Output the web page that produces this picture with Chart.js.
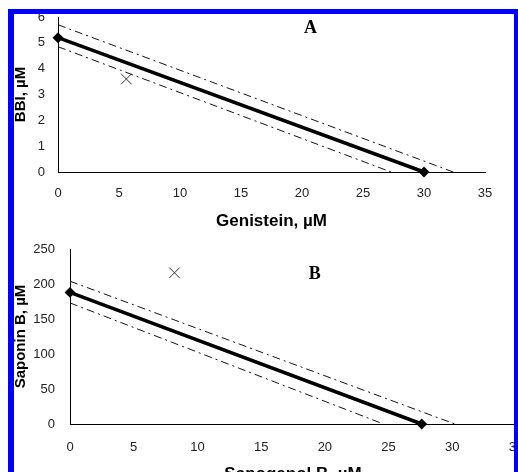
<!DOCTYPE html>
<html>
<head>
<meta charset="utf-8">
<script src="https://cdn.jsdelivr.net/npm/chart.js@4"></script>
<style>
  html, body { margin: 0; padding: 0; background: #fff; }
  body { width: 518px; height: 472px; overflow: hidden; position: relative; }
  canvas { position: absolute; left: 0; }
  #chartA { top: 0; }
  #chartB { top: 232px; }
  .frame {
    position: absolute; left: 8px; top: 9px; width: 500px; height: 520px;
    border-top: 5px solid #0000ff; border-left: 6px solid #0000ff; border-right: 4px solid #0000ff;
    pointer-events: none;
  }
</style>
</head>
<body>
<canvas id="chartA" width="518" height="240"></canvas>
<canvas id="chartB" width="560" height="260"></canvas>
<div class="frame"></div>
<script>
// panel A: BBI vs genistein
const aFitX = [0, 30];
const aFitY = [5.2, 0];
const aUpperX = [0, 32.4];
const aUpperY = [5.7, 0];
const aLowerX = [0, 27.3];
const aLowerY = [4.85, 0];
const aMarkX = [5.6];
const aMarkY = [3.6];
const aTicksX = [0, 5, 10, 15, 20, 25, 30, 35];
const aTicksY = [0, 1, 2, 3, 4, 5, 6];

// panel B: saponin B vs sapogenol B
const bFitX = [0, 27.6];
const bFitY = [188, 0];
const bUpperX = [0, 30.2];
const bUpperY = [204, 0];
const bLowerX = [0, 24.6];
const bLowerY = [173, 0];
const bMarkX = [8.2];
const bMarkY = [216];
const bTicksX = [0, 5, 10, 15, 20, 25, 30, 35];
const bTicksY = [0, 50, 100, 150, 200, 250];

const sans = "'Liberation Sans', Arial, sans-serif";

function pts(xs, ys) {
  return xs.map((x, i) => ({ x: x, y: ys[i] }));
}

const panelLabel = {
  id: "panelLabel",
  afterDraw(chart, args, opts) {
    const { ctx, scales } = chart;
    ctx.save();
    ctx.font = "bold 18px 'Liberation Serif', 'Times New Roman', serif";
    ctx.fillStyle = "#000";
    ctx.textAlign = "center";
    ctx.textBaseline = "middle";
    ctx.fillText(opts.text, scales.x.getPixelForValue(opts.x), scales.y.getPixelForValue(opts.y));
    ctx.restore();
  },
};

function buildDatasets(fitX, fitY, upX, upY, loX, loY, mX, mY) {
  return [
    {
      data: pts(fitX, fitY),
      showLine: true,
      borderColor: "#000",
      backgroundColor: "#000",
      borderWidth: 3.5,
      pointStyle: "rectRot",
      pointRadius: 3,
      clip: 6,
    },
    {
      data: pts(upX, upY),
      showLine: true,
      borderColor: "#111",
      borderWidth: 1,
      borderDash: [8, 4, 2, 4],
      pointRadius: 0,
    },
    {
      data: pts(loX, loY),
      showLine: true,
      borderColor: "#111",
      borderWidth: 1,
      borderDash: [8, 4, 2, 4],
      pointRadius: 0,
    },
    {
      data: pts(mX, mY),
      showLine: false,
      pointStyle: "crossRot",
      pointRadius: 7.5,
      borderColor: "#333",
      borderWidth: 1,
    },
  ];
}

function buildChart(id, cfg) {
  const ctx = document.getElementById(id).getContext("2d");
  return new Chart(ctx, {
    type: "scatter",
    data: { datasets: cfg.datasets },
    plugins: [panelLabel],
    options: {
      responsive: false,
      animation: false,
      events: [],
      layout: { padding: cfg.padding },
      plugins: {
        legend: { display: false },
        tooltip: { enabled: false },
        panelLabel: cfg.label,
      },
      scales: {
        x: {
          type: "linear",
          min: cfg.ticksX[0],
          max: cfg.ticksX[cfg.ticksX.length - 1],
          afterBuildTicks: (s) => { s.ticks = cfg.ticksX.map((v) => ({ value: v })); },
          afterFit: (s) => { s.height = cfg.xHeight; s.paddingLeft = 0; s.paddingRight = 0; },
          grid: { display: false, drawTicks: false },
          border: { display: true, color: "#000", width: 1 },
          ticks: { color: "#222", font: { family: sans, size: 13 }, padding: cfg.xPad, maxRotation: 0 },
          title: {
            display: true,
            text: cfg.xTitle,
            color: "#000",
            font: { family: sans, size: 17, weight: "bold" },
            padding: { top: 0, bottom: cfg.xTitlePad },
          },
        },
        y: {
          type: "linear",
          min: cfg.ticksY[0],
          max: cfg.ticksY[cfg.ticksY.length - 1],
          afterBuildTicks: (s) => { s.ticks = cfg.ticksY.map((v) => ({ value: v })); },
          afterFit: (s) => { s.width = cfg.yWidth; s.paddingTop = 0; s.paddingBottom = 0; },
          grid: { display: false, drawTicks: false },
          border: { display: true, color: "#000", width: 1 },
          ticks: { color: "#222", font: { family: sans, size: 13 }, padding: cfg.yPad },
          title: {
            display: true,
            text: cfg.yTitle,
            color: "#000",
            font: { family: sans, size: 15, weight: "bold" },
            padding: { top: 12, bottom: 0 },
          },
        },
      },
    },
  });
}

buildChart("chartA", {
  datasets: buildDatasets(aFitX, aFitY, aUpperX, aUpperY, aLowerX, aLowerY, aMarkX, aMarkY),
  ticksX: aTicksX,
  ticksY: aTicksY,
  xTitle: "Genistein, µM",
  yTitle: "BBI, µM",
  padding: { left: 0, top: 17, right: 33, bottom: 0 },
  xHeight: 68,
  yWidth: 58,
  xPad: 14,
  yPad: 13,
  xTitlePad: 8,
  label: { text: "A", x: 20.7, y: 5.55 },
});

buildChart("chartB", {
  datasets: buildDatasets(bFitX, bFitY, bUpperX, bUpperY, bLowerX, bLowerY, bMarkX, bMarkY),
  ticksX: bTicksX,
  ticksY: bTicksY,
  xTitle: "Sapogenol B, µM",
  yTitle: "Saponin B, µM",
  padding: { left: 0, top: 17, right: 44, bottom: 0 },
  xHeight: 68,
  yWidth: 70,
  xPad: 16,
  yPad: 15,
  xTitlePad: 7,
  label: { text: "B", x: 19.2, y: 214 },
});
</script>
</body>
</html>
